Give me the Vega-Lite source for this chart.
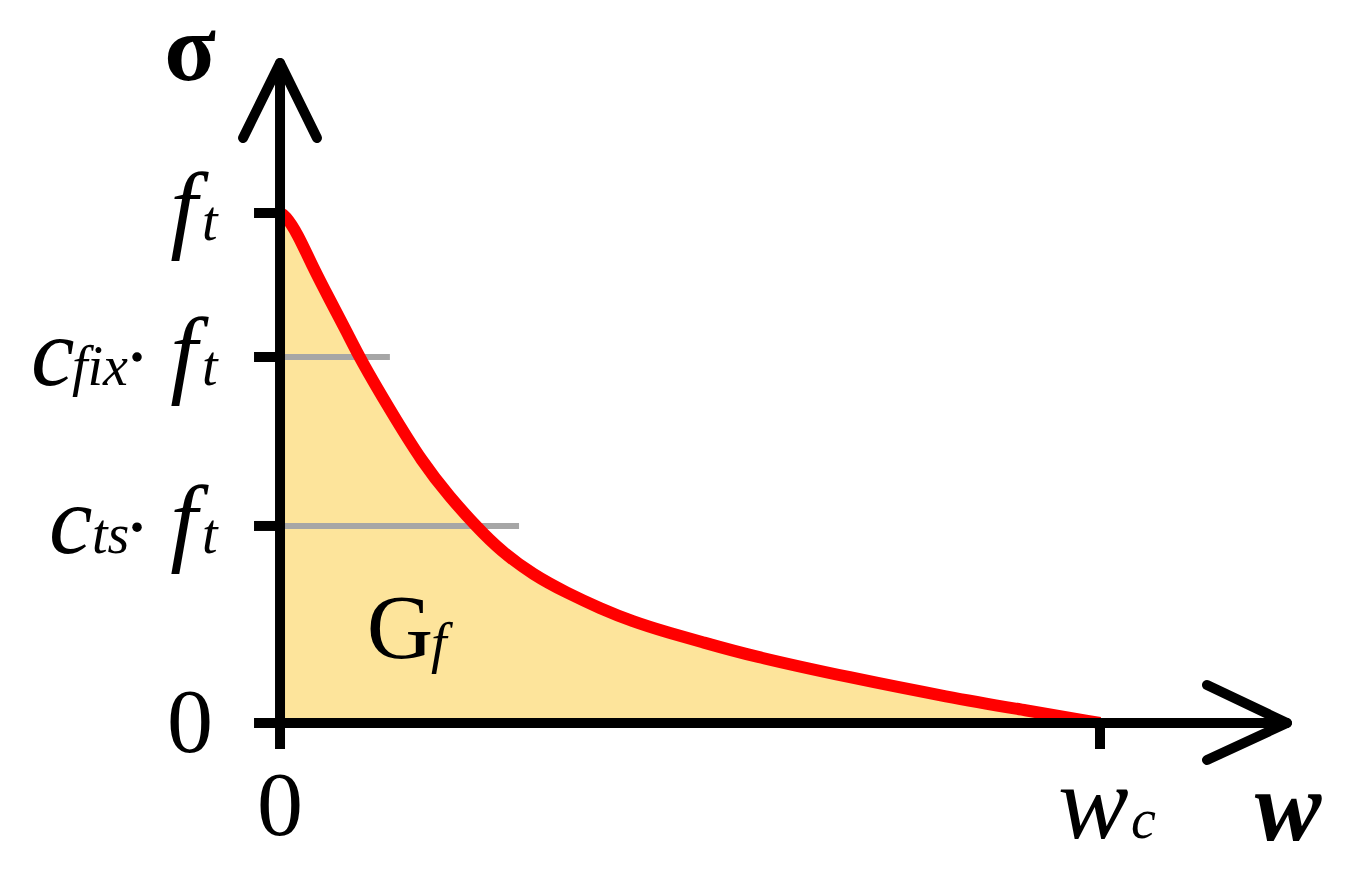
{
  "$schema": "https://vega.github.io/schema/vega-lite/v6.json",
  "width": 1366,
  "height": 895,
  "autosize": {"type": "none"},
  "padding": 0,
  "background": "white",
  "config": {"view": {"stroke": null}},
  "datasets": {
    "curve": [
      {"w": 0, "s": 1.0}, {"w": 0.006, "s": 0.996}, {"w": 0.021, "s": 0.961}, {"w": 0.040, "s": 0.894},
      {"w": 0.061, "s": 0.829}, {"w": 0.082, "s": 0.765}, {"w": 0.097, "s": 0.716}, {"w": 0.134, "s": 0.614},
      {"w": 0.174, "s": 0.510}, {"w": 0.207, "s": 0.443}, {"w": 0.240, "s": 0.384}, {"w": 0.268, "s": 0.339},
      {"w": 0.309, "s": 0.290}, {"w": 0.350, "s": 0.255}, {"w": 0.390, "s": 0.225}, {"w": 0.430, "s": 0.199},
      {"w": 0.472, "s": 0.178}, {"w": 0.512, "s": 0.160}, {"w": 0.573, "s": 0.132}, {"w": 0.695, "s": 0.089},
      {"w": 0.817, "s": 0.050}, {"w": 0.909, "s": 0.025}, {"w": 1.0, "s": 0.0}
    ]
  },
  "encoding": {
    "x": {"field": "w", "type": "quantitative", "axis": null, "scale": {"domain": [-0.3415, 1.3244], "nice": false, "zero": false}},
    "y": {"field": "s", "type": "quantitative", "axis": null, "scale": {"domain": [-0.3373, 1.4176], "nice": false, "zero": false}}
  },
  "layer": [
    {
      "data": {"name": "curve"},
      "mark": {"type": "area", "color": "#fde49b", "opacity": 1, "interpolate": "basis"}
    },
    {
      "data": {"values": [
        {"w": 0, "w2": 0.134, "s": 0.7176},
        {"w": 0, "w2": 0.2915, "s": 0.3863}
      ]},
      "mark": {"type": "rule", "color": "#a6a6a6", "strokeWidth": 6},
      "encoding": {"x2": {"field": "w2"}}
    },
    {
      "data": {"name": "curve"},
      "mark": {"type": "line", "color": "#ff0000", "strokeWidth": 12, "interpolate": "basis"}
    },
    {
      "data": {"values": [
        {"w": 0, "w2": 0, "s": -0.051, "s2": 1.294},
        {"w": -0.0317, "w2": 1.228, "s": 0, "s2": 0},
        {"w": -0.0317, "w2": 0, "s": 1, "s2": 1},
        {"w": -0.0317, "w2": 0, "s": 0.7176, "s2": 0.7176},
        {"w": -0.0317, "w2": 0, "s": 0.3863, "s2": 0.3863},
        {"w": 1, "w2": 1, "s": 0, "s2": -0.051}
      ]},
      "mark": {"type": "rule", "color": "black", "strokeWidth": 10, "strokeCap": "butt"},
      "encoding": {"x2": {"field": "w2"}, "y2": {"field": "s2"}}
    },
    {
      "data": {"values": [
        {"w": 0, "w2": -0.0451, "s": 1.294, "s2": 1.147},
        {"w": 0, "w2": 0.0451, "s": 1.294, "s2": 1.147},
        {"w": 1.228, "w2": 1.1305, "s": 0, "s2": 0.0745},
        {"w": 1.228, "w2": 1.1305, "s": 0, "s2": -0.0725}
      ]},
      "mark": {"type": "rule", "color": "black", "strokeWidth": 10, "strokeCap": "round"},
      "encoding": {"x2": {"field": "w2"}, "y2": {"field": "s2"}}
    },
    {
      "data": {"values": [
        {"w": -0.1744, "s": 0.7176},
        {"w": -0.1744, "s": 0.384}
      ]},
      "mark": {"type": "circle", "color": "black", "size": 90, "opacity": 1}
    },
    {
      "data": {"values": [
        {"w": -0.134, "s": 0.9471, "t": "f"},
        {"w": -0.134, "s": 0.6627, "t": "f"},
        {"w": -0.134, "s": 0.3333, "t": "f"},
        {"w": -0.3037, "s": 0.6627, "t": "c"},
        {"w": -0.2817, "s": 0.3333, "t": "c"}
      ]},
      "mark": {"type": "text", "font": "Liberation Serif", "fontStyle": "italic", "fontSize": 98, "align": "left", "baseline": "alphabetic", "color": "black"},
      "encoding": {"text": {"field": "t"}}
    },
    {
      "data": {"values": [
        {"w": 0.9488, "s": -0.2255, "t": "w"}
      ]},
      "mark": {"type": "text", "font": "Liberation Serif", "fontStyle": "italic", "fontSize": 106, "align": "left", "baseline": "alphabetic", "color": "black"},
      "encoding": {"text": {"field": "t"}}
    },
    {
      "data": {"values": [
        {"w": -0.0951, "s": 0.9471, "t": "t"},
        {"w": -0.0951, "s": 0.6627, "t": "t"},
        {"w": -0.0951, "s": 0.3333, "t": "t"},
        {"w": -0.2537, "s": 0.6627, "t": "fix"},
        {"w": -0.2293, "s": 0.3333, "t": "ts"},
        {"w": 1.0378, "s": -0.2255, "t": "c"},
        {"w": 0.1841, "s": 0.1196, "t": "f"}
      ]},
      "mark": {"type": "text", "font": "Liberation Serif", "fontStyle": "italic", "fontSize": 56, "align": "left", "baseline": "alphabetic", "color": "black"},
      "encoding": {"text": {"field": "t"}}
    },
    {
      "data": {"values": [
        {"w": -0.1098, "s": -0.0569, "t": "0"},
        {"w": 0, "s": -0.2196, "t": "0"},
        {"w": 0.1463, "s": 0.1275, "t": "G"}
      ]},
      "mark": {"type": "text", "font": "Liberation Serif", "fontSize": 92, "align": "center", "baseline": "alphabetic", "color": "black"},
      "encoding": {"text": {"field": "t"}}
    },
    {
      "data": {"values": [
        {"w": -0.1098, "s": 1.2608, "t": "σ"}
      ]},
      "mark": {"type": "text", "font": "Liberation Serif", "fontWeight": "bold", "fontSize": 95, "align": "center", "baseline": "alphabetic", "color": "black"},
      "encoding": {"text": {"field": "t"}}
    },
    {
      "data": {"values": [
        {"w": 1.2293, "s": -0.2294, "t": "w"}
      ]},
      "mark": {"type": "text", "font": "Liberation Serif", "fontWeight": "bold", "fontStyle": "italic", "fontSize": 100, "align": "center", "baseline": "alphabetic", "color": "black"},
      "encoding": {"text": {"field": "t"}}
    }
  ]
}
